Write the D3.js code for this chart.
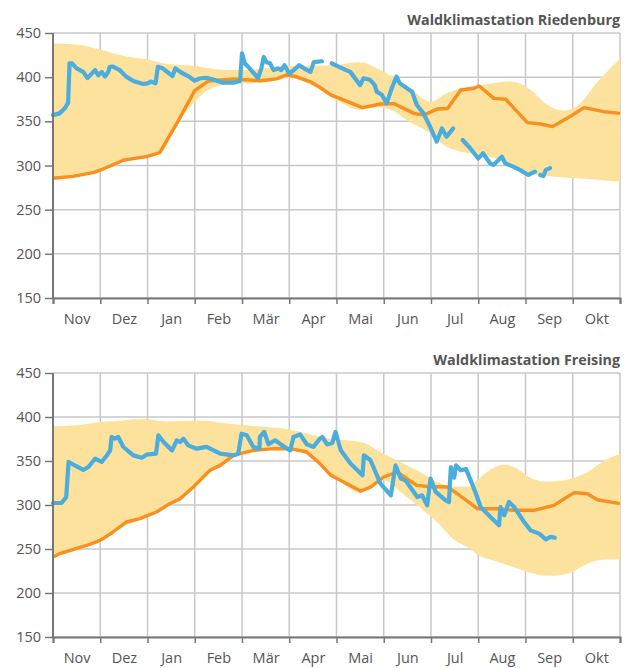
<!DOCTYPE html>
<html>
<head>
<meta charset="utf-8">
<script src="https://cdn.jsdelivr.net/npm/d3@7"></script>
<style>
  body { margin: 0; background: #fff; }
  svg text { font-family: "Open Sans", "Noto Sans", sans-serif; fill: #555; }
</style>
</head>
<body>
<div id="chart"></div>
<script>
// x values are in months since 1 Nov (0..12)
const months = ['Nov', 'Dez', 'Jan', 'Feb', 'Mär', 'Apr', 'Mai', 'Jun', 'Jul', 'Aug', 'Sep', 'Okt'];
const yTicks = [150, 200, 250, 300, 350, 400, 450];

// Riedenburg
const riedBandX     = [0, 0.5, 1, 1.5, 2, 2.3, 2.6, 3, 3.3, 3.7, 4, 4.5, 5, 5.5, 6, 6.5, 6.9, 7.2, 7.5, 8, 8.3, 8.6, 9, 9.3, 9.7, 10.1, 10.45, 10.8, 11.15, 11.5, 12];
const riedBandUpper = [438, 437, 431, 424, 420, 416, 414, 413, 410, 408, 408, 410, 413, 413, 414, 417, 409, 400, 390, 372, 381, 387, 390, 393, 395, 386, 369, 362, 370, 393, 421];
const riedBandLower = [285, 288, 295, 305, 309.5, 315, 344, 372, 386, 392, 393, 394, 399, 390, 374, 363, 366, 362, 351, 336, 322, 316, 312, 309, 301, 291, 288, 286.5, 285.5, 284, 282];
const riedMean = [[0,285.5],[0.42,287.7],[0.85,292],[1.06,296],[1.49,306],[1.7,307.8],[1.98,310],[2.26,314.5],[2.62,347.8],[3.0,384.7],[3.29,395.7],[3.82,398],[4.38,396],[4.73,398],[4.94,402.5],[5.12,401],[5.44,395],[5.65,388.5],[5.88,380],[6.55,365.5],[6.93,369.6],[7.22,370],[7.64,359],[7.85,357],[8.13,364],[8.35,364.6],[8.63,385.5],[8.91,387.4],[9.02,390],[9.33,376],[9.58,375],[10.04,348.5],[10.32,347],[10.57,344],[10.88,353.4],[11.24,365.5],[11.66,361],[12,359]];
const riedCurrent = [
  [[0,357],[0.14,359],[0.25,364.7],[0.32,371],[0.35,415.7],[0.4,415.7],[0.5,410],[0.64,406],[0.73,399],[0.82,404],[0.89,408],[0.96,402],[1.03,406],[1.1,400.6],[1.17,406],[1.2,411.8],[1.27,412],[1.41,408],[1.55,400.6],[1.7,395.7],[1.91,392.3],[2.0,393],[2.07,395],[2.17,393],[2.22,411.8],[2.32,410],[2.53,401.3],[2.59,410],[2.72,405],[2.86,401.3],[3.0,396],[3.1,398.5],[3.25,399.3],[3.39,397.4],[3.6,393.7],[3.82,393.7],[3.96,395.6],[4.0,427],[4.06,415.7],[4.16,410],[4.34,399],[4.41,410],[4.46,422.9],[4.52,417],[4.59,415.7],[4.67,408],[4.76,410],[4.83,408],[4.9,413.6],[5.0,404],[5.14,410],[5.21,413.6],[5.31,410],[5.45,406],[5.52,417],[5.69,418]],
  [[5.9,415.7],[6.04,412],[6.29,406],[6.5,391],[6.57,398.7],[6.71,397],[6.81,391],[6.85,383.6],[6.96,380],[7.06,370.4],[7.17,387.4],[7.27,400.6],[7.34,393],[7.49,387.4],[7.6,383.6],[7.7,368.5],[7.84,359],[7.98,344],[8.12,327],[8.23,342],[8.33,332.6],[8.47,342]],
  [[8.67,328.9],[8.83,319.5],[9.0,308],[9.1,313.8],[9.25,302.5],[9.32,300.6],[9.5,310],[9.57,302.5],[9.74,298.7],[9.88,295],[10.06,289.3],[10.2,293]],
  [[10.31,289.3],[10.38,288],[10.43,295],[10.52,297]]
];

// Freising
const freiBandX     = [0, 0.5, 1, 1.35, 1.9, 2.4, 3.1, 3.8, 4.5, 4.9, 5.25, 5.6, 6, 6.5, 7, 7.35, 7.75, 8.1, 8.5, 8.8, 9, 9.25, 9.55, 9.8, 10.1, 10.45, 10.9, 11.3, 11.65, 12];
const freiBandUpper = [389.4, 390.5, 394.3, 395.5, 397.7, 395, 396, 391.7, 388.6, 386.7, 383, 378, 374.5, 372, 358, 349, 338, 327, 321, 321, 329, 340, 346, 342, 331, 326.6, 329, 337, 350, 358];
const freiBandLower = [240, 249.5, 259, 271.5, 285, 298, 326.5, 354.5, 362, 363, 360.5, 347.5, 330, 313.5, 328, 315, 298, 282, 260, 251, 243, 238, 233, 228.5, 223, 219.5, 222, 233, 238, 238];
const freiMean = [[0,240.9],[0.14,244.7],[0.42,249.2],[0.71,254],[0.92,258],[1.06,261.7],[1.27,269.3],[1.55,280.7],[1.84,284.5],[2.19,292],[2.47,301.5],[2.69,307.2],[2.97,320.5],[3.32,339.4],[3.54,345],[3.82,356.4],[4.24,362],[4.66,364],[5.02,364],[5.37,360.2],[5.65,347],[5.88,333.7],[6.51,315.9],[6.72,320.4],[7.0,331.8],[7.28,337.5],[7.7,322.3],[7.92,321],[8.35,320.4],[8.56,312.8],[8.98,295.8],[9.4,295.8],[9.76,294],[10.18,294],[10.6,299.6],[11.03,314],[11.31,312.8],[11.52,306],[12,301.5]];
const freiCurrent = [
  [[0,302.3],[0.18,302.3],[0.28,309],[0.33,348.9],[0.46,345],[0.64,340],[0.75,343.2],[0.89,352.6],[1.03,348.9],[1.14,356.4],[1.21,362],[1.24,377.3],[1.31,375.4],[1.38,377.3],[1.49,365.9],[1.7,356.4],[1.88,353.8],[1.98,357.2],[2.18,358.3],[2.23,379.2],[2.34,371.6],[2.52,362],[2.62,373.5],[2.69,371.6],[2.76,375.4],[2.86,367.8],[3.04,364],[3.25,366],[3.54,358.3],[3.82,356.4],[3.92,358.3],[3.99,381],[4.1,379.2],[4.24,366],[4.37,364],[4.38,377.3],[4.47,383],[4.56,369],[4.7,373.5],[4.88,366.7],[5.02,362],[5.09,377.3],[5.23,380.3],[5.37,369],[5.51,366],[5.65,375.4],[5.7,377.3],[5.8,368.8],[5.91,370.6],[5.98,383],[6.09,362.2],[6.3,347],[6.55,333.7],[6.58,356.5],[6.72,350.8],[6.93,324.3],[7.15,311],[7.25,345],[7.36,330],[7.46,328],[7.71,309],[7.81,311],[7.92,299.7],[7.99,330],[8.1,314.8],[8.31,305.3],[8.38,303.4],[8.42,343.2],[8.49,331.1],[8.53,345],[8.63,339.4],[8.74,341],[8.84,328],[8.95,313],[9.05,297.7],[9.26,286.4],[9.44,276.9],[9.47,297.7],[9.55,288.3],[9.65,303.4],[9.76,297.7],[9.97,280.7],[10.11,271.2],[10.29,267.5],[10.43,261],[10.53,263.8],[10.62,262.7]]
];

const panels = [
  { title: 'Waldklimastation Riedenburg', bandX: riedBandX, upper: riedBandUpper, lower: riedBandLower, mean: riedMean, current: riedCurrent, top: 33, bottom: 298, titleY: 25 },
  { title: 'Waldklimastation Freising', bandX: freiBandX, upper: freiBandUpper, lower: freiBandLower, mean: freiMean, current: freiCurrent, top: 373, bottom: 637, titleY: 365 }
];

const width = 634, height = 668;
const left = 53, right = 620;
const gridColor = '#c8c8c8', axisColor = '#777';

const svg = d3.select('#chart').append('svg')
  .attr('width', width)
  .attr('height', height);

const x = d3.scaleLinear().domain([0, 12]).range([left, right]);

panels.forEach(p => {
  const y = d3.scaleLinear().domain([150, 450]).range([p.bottom, p.top]);
  const g = svg.append('g');

  // grid
  g.selectAll('line.h').data(yTicks).enter().append('line')
    .attr('x1', left).attr('x2', right)
    .attr('y1', d => y(d)).attr('y2', d => y(d))
    .attr('stroke', gridColor).attr('stroke-width', 1.5);
  g.selectAll('line.v').data(d3.range(1, 13)).enter().append('line')
    .attr('x1', d => x(d)).attr('x2', d => x(d))
    .attr('y1', p.top).attr('y2', p.bottom)
    .attr('stroke', gridColor).attr('stroke-width', 1.5);

  // range band
  const band = p.bandX.map((m, i) => ({ m, hi: p.upper[i], lo: p.lower[i] }));
  g.append('path')
    .datum(band)
    .attr('fill', '#fde29e')
    .attr('d', d3.area()
      .x(d => x(d.m))
      .y0(d => y(d.lo))
      .y1(d => y(d.hi))
      .curve(d3.curveMonotoneX));

  const line = d3.line().x(d => x(d[0])).y(d => y(d[1]));

  // long-term mean
  g.append('path')
    .datum(p.mean)
    .attr('fill', 'none')
    .attr('stroke', '#f7901e')
    .attr('stroke-width', 3.4)
    .attr('stroke-linejoin', 'round')
    .attr('d', line);

  // current year
  g.selectAll('path.cur').data(p.current).enter().append('path')
    .attr('fill', 'none')
    .attr('stroke', '#4aaddd')
    .attr('stroke-width', 4.2)
    .attr('stroke-linejoin', 'round')
    .attr('stroke-linecap', 'round')
    .attr('d', line);

  // axes
  const yAxis = g.append('g')
    .attr('transform', `translate(${left},0)`)
    .call(d3.axisLeft(y).tickValues(yTicks).tickSize(8).tickPadding(4));
  yAxis.select('.domain').remove();
  yAxis.selectAll('line').attr('stroke', axisColor).attr('stroke-width', 1.5);
  yAxis.selectAll('text').attr('font-size', 14.5);

  g.append('line')
    .attr('x1', left).attr('x2', left)
    .attr('y1', p.top).attr('y2', p.bottom)
    .attr('stroke', axisColor).attr('stroke-width', 2);

  const xTicks = g.append('g')
    .attr('transform', `translate(0,${p.bottom})`)
    .call(d3.axisBottom(x).tickValues(d3.range(0, 13)).tickSize(6).tickFormat(''));
  xTicks.select('.domain').attr('stroke', axisColor).attr('stroke-width', 2);
  xTicks.selectAll('line').attr('stroke', axisColor).attr('stroke-width', 1.5);

  const xLabels = g.append('g')
    .attr('transform', `translate(0,${p.bottom})`)
    .call(d3.axisBottom(x).tickValues(d3.range(0.5, 12, 1)).tickSize(0).tickPadding(16)
      .tickFormat((d, i) => months[i]));
  xLabels.select('.domain').remove();
  xLabels.selectAll('text').attr('font-size', 14.5);

  g.append('text')
    .attr('x', right)
    .attr('y', p.titleY)
    .attr('text-anchor', 'end')
    .attr('font-size', 14.3)
    .attr('font-weight', 'bold')
    .text(p.title);
});
</script>
</body>
</html>
